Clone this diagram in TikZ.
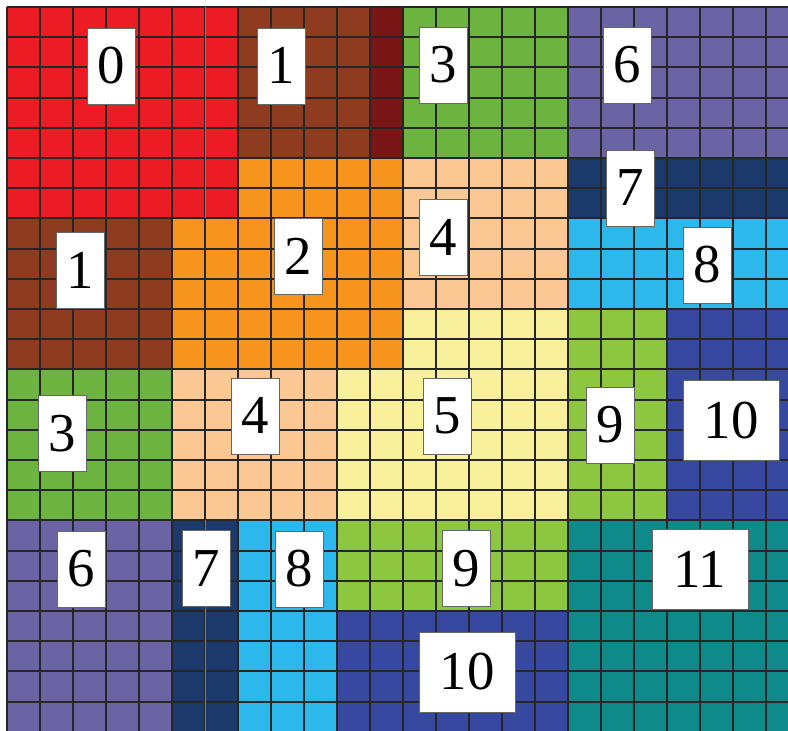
\documentclass[tikz,border=0pt]{standalone}
\usepackage{fontspec}
\setmainfont{Liberation Serif}
\usepackage{xcolor}
\definecolor{reg0}{HTML}{EC1C24}
\definecolor{reg1}{HTML}{8E3B1F}
\definecolor{reg1dark}{HTML}{7A1616}
\definecolor{reg2}{HTML}{F7941D}
\definecolor{reg3}{HTML}{6DB33F}
\definecolor{reg4}{HTML}{FBC893}
\definecolor{reg5}{HTML}{F8F09A}
\definecolor{reg6}{HTML}{6A64A4}
\definecolor{reg7}{HTML}{1B3A6B}
\definecolor{reg8}{HTML}{2CB8EA}
\definecolor{reg9}{HTML}{8DC63F}
\definecolor{reg10}{HTML}{3748A0}
\definecolor{reg11}{HTML}{0E8A8A}
\usepackage{tikz}
\tikzset{%
    cellgrid/.style={%
        draw=black!85, line width=1.3pt
    },
    seam/.style={%
        draw=white, line width=0.7pt, opacity=0.4
    },
    numbox/.style={%
        draw=black!60, fill=white, thin, inner sep=0,
        minimum width=1.2cm, minimum height=1.9cm,
        font=\fontsize{39}{40}\selectfont
    },
    numboxw/.style={%
        numbox, minimum width=2.4cm, minimum height=2cm
    },
}

\begin{document}
\def\xdist{0.825}
\def\ydist{0.755}
\begin{tikzpicture}[x=\xdist cm, y=-\ydist cm]
    \def\xend{23.667}
    \def\yend{23.97}
    \useasboundingbox (-0.212,-0.232) rectangle (\xend,\yend);

    % regions
    \fill [fill=reg0] (0,0) rectangle (7,7);
    \fill [fill=reg1] (7,0) rectangle (12,5);
    \fill [fill=reg1dark] (11,0) rectangle (12,5);
    \fill [fill=reg3] (12,0) rectangle (17,5);
    \fill [fill=reg6] (17,0) rectangle (\xend,5);
    \fill [fill=reg2] (7,5) -- (12,5) -- (12,12) -- (5,12) -- (5,7) -- (7,7) -- cycle;
    \fill [fill=reg4] (12,5) rectangle (17,10);
    \fill [fill=reg7] (17,5) rectangle (\xend,7);
    \fill [fill=reg8] (17,7) rectangle (\xend,10);
    \fill [fill=reg1] (0,7) rectangle (5,12);
    \fill [fill=reg5] (12,10) -- (17,10) -- (17,17) -- (10,17) -- (10,12) -- (12,12) -- cycle;
    \fill [fill=reg9] (17,10) rectangle (20,17);
    \fill [fill=reg10] (20,10) rectangle (\xend,17);
    \fill [fill=reg3] (0,12) rectangle (5,17);
    \fill [fill=reg4] (5,12) rectangle (10,17);
    \fill [fill=reg6] (0,17) rectangle (5,\yend);
    \fill [fill=reg7] (5,17) rectangle (7,\yend);
    \fill [fill=reg8] (7,17) rectangle (10,\yend);
    \fill [fill=reg9] (10,17) rectangle (17,20);
    \fill [fill=reg10] (10,20) rectangle (17,\yend);
    \fill [fill=reg11] (17,17) rectangle (\xend,\yend);

    % grid
    \foreach \c in {0,...,23} {
        \draw[cellgrid] (\c,0) -- (\c,\yend);
    }
    \foreach \r in {0,...,23} {
        \draw[cellgrid] (0,\r) -- (\xend,\r);
    }
    \draw[seam] (6,0) -- (6,7);
    \draw[seam] (6,17) -- (6,\yend);

    % labels
    \node[numbox] (lab0) at (3.15,1.95) {0};
    \node[numbox] (lab1top) at (8.30,1.95) {1};
    \node[numbox] (lab3top) at (13.21,1.92) {3};
    \node[numbox] (lab6top) at (18.79,1.92) {6};
    \node[numbox] (lab7top) at (18.88,5.99) {7};
    \node[numbox] (lab8top) at (21.21,8.54) {8};
    \node[numbox] (lab4top) at (13.21,7.62) {4};
    \node[numbox] (lab2) at (8.82,8.25) {2};
    \node[numbox] (lab1left) at (2.21,8.71) {1};
    \node[numbox] (lab3left) at (1.67,14.11) {3};
    \node[numbox] (lab4left) at (7.52,13.54) {4};
    \node[numbox] (lab5) at (13.33,13.54) {5};
    \node[numbox] (lab9top) at (18.27,13.84) {9};
    \node[numboxw] (lab10top) at (21.94,13.68) {10};
    \node[numbox] (lab6bot) at (2.24,18.61) {6};
    \node[numbox] (lab7bot) at (6.03,18.58) {7};
    \node[numbox] (lab8bot) at (8.85,18.61) {8};
    \node[numbox] (lab9bot) at (13.91,18.58) {9};
    \node[numboxw] (lab11) at (21.0,18.61) {11};
    \node[numboxw] (lab10bot) at (13.94,22.02) {10};
\end{tikzpicture}
\end{document}
